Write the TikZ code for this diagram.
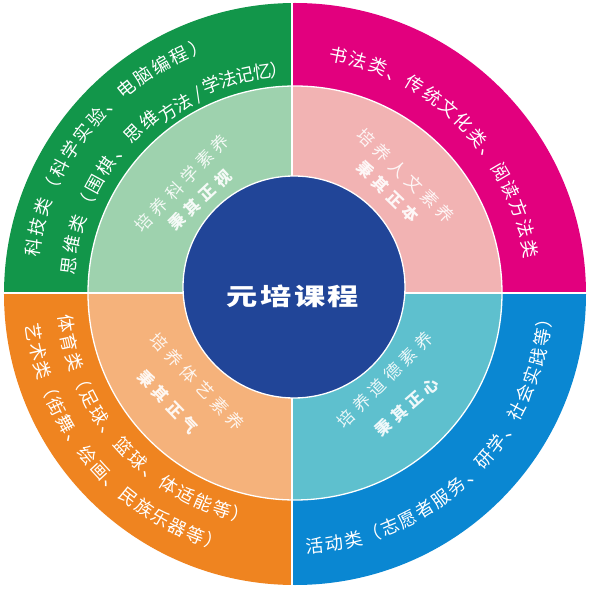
\documentclass[tikz,border=0pt]{standalone}
\usepackage{fontspec}
\newfontfamily\cjk{Noto Sans CJK SC}
\definecolor{cgreen}{HTML}{12964A}
\definecolor{lgreen}{HTML}{9ED2AE}
\definecolor{cmag}{HTML}{E2007E}
\definecolor{lpink}{HTML}{F2B3B3}
\definecolor{corange}{HTML}{EF8420}
\definecolor{lorange}{HTML}{F5B27B}
\definecolor{cblue}{HTML}{0A87D2}
\definecolor{lcyan}{HTML}{5EC0CE}
\definecolor{cnavy}{HTML}{214598}
\newcommand\csep{\kern5pt}
\newcommand\cwtext[5]{%
  \foreach \ch [count=\i from 0] in {#5} {%
    \pgfmathsetmacro\ang{#3-\i*#4}%
    \node[otxt, rotate=\ang-90] (#1-\i) at (\ang:#2) {\ch};
  }}
\newcommand\ccwtext[5]{%
  \foreach \ch [count=\i from 0] in {#5} {%
    \pgfmathsetmacro\ang{#3+\i*#4}%
    \node[otxt, rotate=\ang+90] (#1-\i) at (\ang:#2) {\ch};
  }}
\tikzset{
  otxt/.style={text=white, inner sep=0pt, anchor=center,
    font=\cjk\fontsize{18}{18}\selectfont, text height=15.8pt, text depth=2.2pt},
  itxt/.style={text=white, text opacity=0.88, inner sep=0pt,
    font=\cjk\fontsize{17}{17}\selectfont},
  itxtb/.style={text=white, text opacity=0.9, inner sep=0pt,
    font=\cjk\bfseries\fontsize{16}{16}\selectfont},
  ctxt/.style={text=white, inner sep=0pt,
    font=\cjk\bfseries\fontsize{26}{26}\selectfont, xscale=1.2, yscale=0.92}
}
\begin{document}
\begin{tikzpicture}[x=1pt,y=1pt]
\useasboundingbox (-292,-296) rectangle (297,293);
\fill[white] (-292,-296) rectangle (297,293);
% outer ring quadrants
\begin{scope}
  \clip (3,-1) circle (291);
  \fill[cgreen] (-300,0) rectangle (0,300);
  \fill[cmag] (0,0) rectangle (300,300);
  \fill[corange] (-300,-300) rectangle (0,0);
  \fill[cblue] (0,-300) rectangle (300,0);
\end{scope}
% inner ring quadrants
\begin{scope}
  \clip (3,0) circle (207);
  \fill[lgreen] (-300,0) rectangle (0,300);
  \fill[lpink] (0,0) rectangle (300,300);
  \fill[lorange] (-300,-300) rectangle (0,0);
  \fill[lcyan] (0,-300) rectangle (300,0);
\end{scope}
\draw[white, line width=1.3pt] (3,0) circle (207);
% quadrant separators
\begin{scope}
  \clip (3,-1) circle (292);
  \draw[white, line width=2.4pt] (0,-300) -- (0,300);
  \draw[white, line width=2.4pt] (-300,0) -- (300,0);
\end{scope}
% centre disc
\fill[cnavy] (2,6) circle (111);
\draw[white, line width=1.3pt] (2,6) circle (111);
\node[ctxt] (core) at (1,-3) {元\kern2pt 培\kern2pt 课\kern2pt 程};
% outer ring texts
\cwtext{ga}{263}{170}{4.55}{科,技,类,（,科,学,实,验,、,电,脑,编,程,）}
\cwtext{gb}{225}{173}{5.45}{思,维,类,（,围,棋,、,思,维}
\cwtext{gc}{219}{124.4}{4.6}{方,法}
\node[otxt, rotate=25.4] (gslash) at (115.4:220) {/};
\cwtext{gd}{223}{111.2}{4.5}{学,法,记,忆,）}
\cwtext{ma}{242}{79}{4.89}{书,法,类,、,传,统,文,化,类,、,阅,读,方,法,类}
\ccwtext{oa}{228}{187.6}{4.96}{体,育,类,（,足,球,、,篮,球,、,体,适,能,等,）}
\ccwtext{ob}{261}{188.7}{4.26}{艺,术,类,（,街,舞,、,绘,画,、,民,族,乐,器,等,）}
\ccwtext{ba}{254}{275.2}{4.39}{活,动,类,（,志,愿,者,服,务,、,研,学,、,社,会,实,践,等,）}
% inner ring texts
\node[itxt, rotate=46] (tl1) at (-110,110) {培\csep 养\csep 科\csep 学\csep 素\csep 养};
\node[itxtb, rotate=43] (tl2) at (-92,93) {秉\csep 其\csep 正\csep 视};
\node[itxt, rotate=-44] (tr1) at (114,117) {培\csep 养\csep 人\csep 文\csep 素\csep 养};
\node[itxtb, rotate=-44] (tr2) at (96,101) {秉\csep 其\csep 正\csep 本};
\node[itxt, rotate=-46] (bl1) at (-95,-89) {培\csep 养\csep 体\csep 艺\csep 素\csep 养};
\node[itxtb, rotate=-46] (bl2) at (-124,-109) {秉\csep 其\csep 正\csep 气};
\node[itxt, rotate=45] (br1) at (93,-87) {培\csep 养\csep 道\csep 德\csep 素\csep 养};
\node[itxtb, rotate=41] (br2) at (115,-114) {秉\csep 其\csep 正\csep 心};
\end{tikzpicture}
\end{document}
